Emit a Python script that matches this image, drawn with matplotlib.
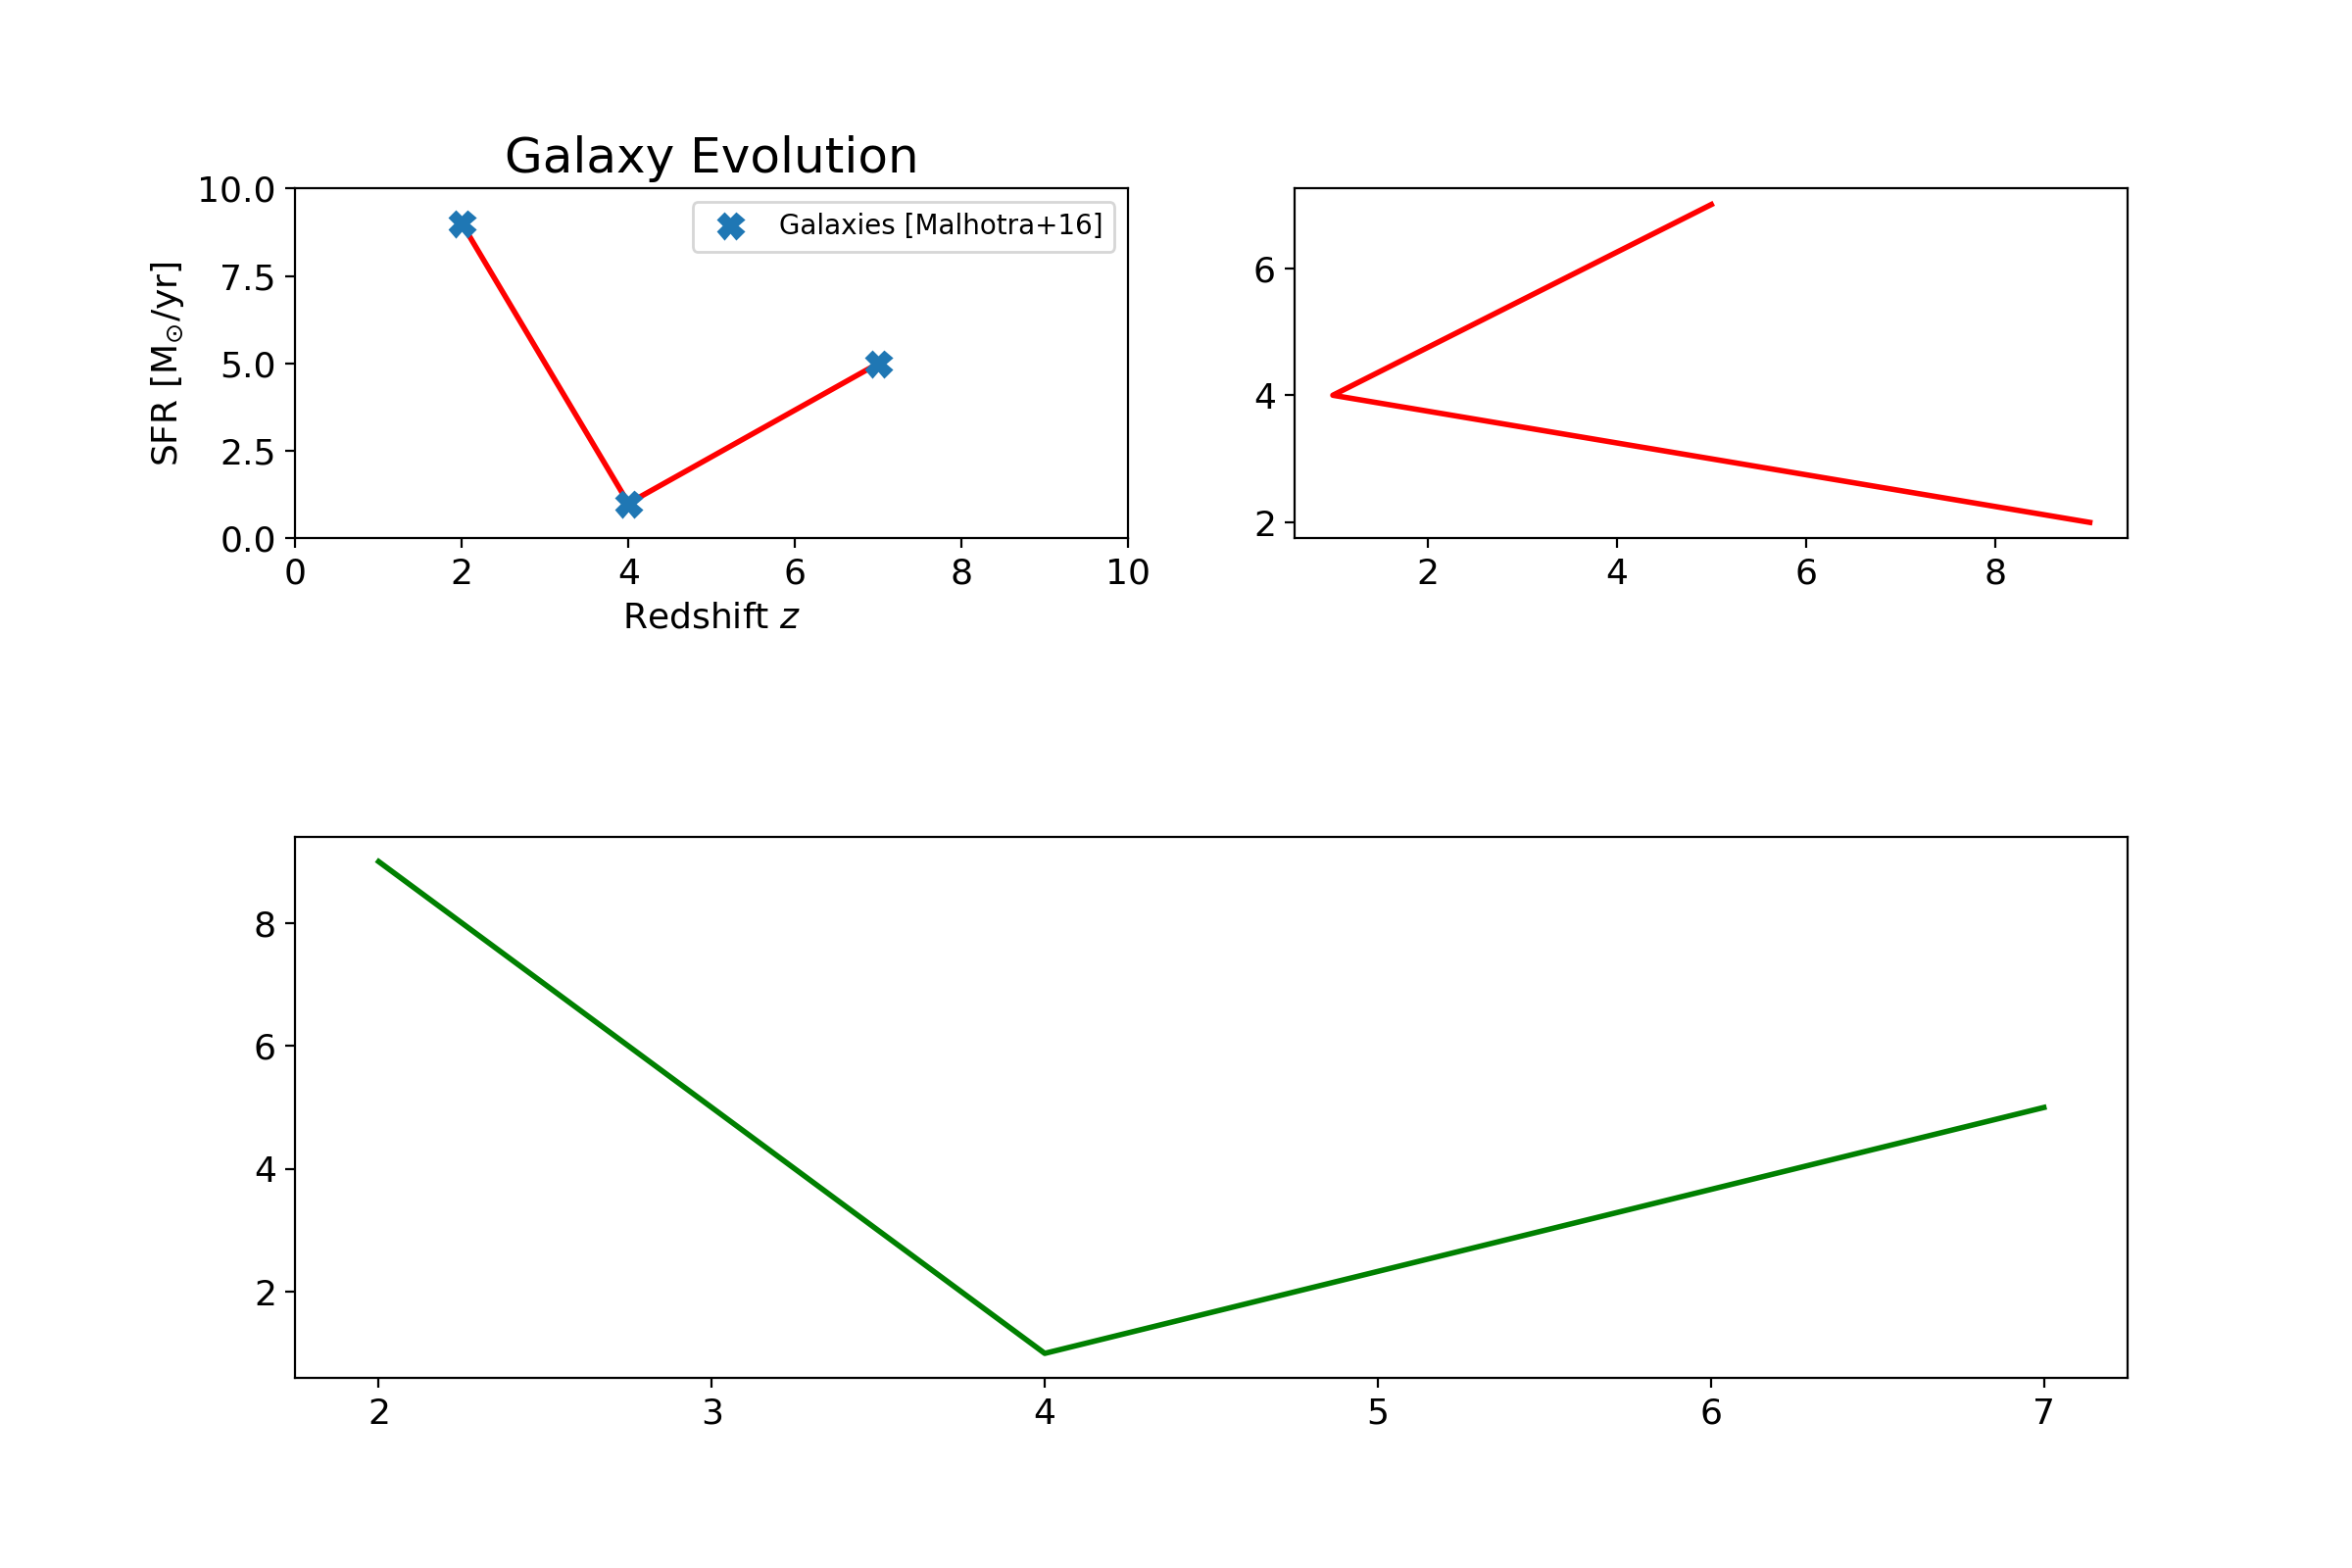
import matplotlib
matplotlib.use("Agg")
import matplotlib.pyplot as plt

z = [2, 4, 7]
sfr = [9, 1, 5]
x2 = [5, 1, 9]
y2 = [7, 4, 2]

fig = plt.figure(figsize=(12, 8), dpi=200)
ax1 = fig.add_axes([0.1256, 0.6567, 0.354, 0.223])
ax2 = fig.add_axes([0.5506, 0.6567, 0.354, 0.223])
ax3 = fig.add_axes([0.1256, 0.1212, 0.7788, 0.345])

ax1.plot(z, sfr, color='red', lw=2)
ax1.plot(z, sfr, 'X', color='#1f77b4', ms=9, label='Galaxies [Malhotra+16]')
ax1.set_xlim(0, 10)
ax1.set_ylim(0, 10)
ax1.set_yticks([0, 2.5, 5, 7.5, 10])
ax1.set_yticklabels(['0.0', '2.5', '5.0', '7.5', '10.0'])
ax1.set_xlabel('Redshift $z$', fontsize=13)
ax1.set_ylabel(r'SFR [M$_{\odot}$/yr]', fontsize=13)
ax1.set_title('Galaxy Evolution', fontsize=18)
ax1.legend(fontsize=10)

ax2.plot(x2, y2, color='red', lw=2)
ax2.set_yticks([2, 4, 6])
ax3.plot(z, sfr, color='green', lw=2)

for ax in (ax1, ax2, ax3):
    ax.tick_params(labelsize=13)

fig.savefig('out.png', dpi=200)
